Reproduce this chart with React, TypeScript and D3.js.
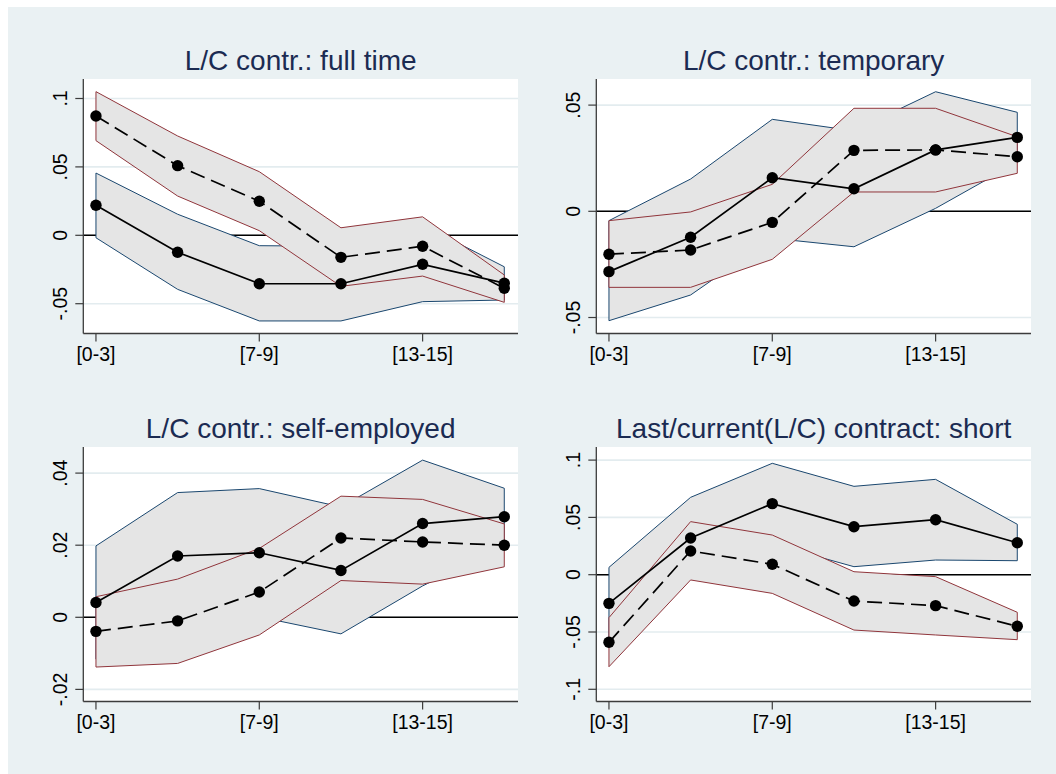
import React from "react";
import * as d3 from "d3";

// ---- data ----
const xValues = [1, 2, 3, 4, 5, 6];
const xTickValues = [1, 3, 5];
const xTickLabels = ["[0-3]", "[7-9]", "[13-15]"];

const titles = [
  "L/C contr.: full time",
  "L/C contr.: temporary",
  "L/C contr.: self-employed",
  "Last/current(L/C) contract: short",
];

// full time
const ftSolid = [0.022, -0.0124, -0.0354, -0.0354, -0.0212, -0.035];
const ftSolidLo = [-0.0018, -0.0395, -0.0626, -0.0626, -0.0485, -0.0473];
const ftSolidHi = [0.0455, 0.0154, -0.0076, -0.008, 0.0075, -0.023];
const ftDashed = [0.0872, 0.0509, 0.0249, -0.0161, -0.008, -0.0387];
const ftDashedLo = [0.0692, 0.0287, 0.0034, -0.0373, -0.0298, -0.049];
const ftDashedHi = [0.105, 0.0726, 0.0465, 0.0055, 0.0135, -0.029];

// temporary
const tmSolid = [-0.0284, -0.0122, 0.0158, 0.0106, 0.0289, 0.0348];
const tmSolidLo = [-0.0515, -0.0394, -0.0127, -0.0167, 0.0014, 0.023];
const tmSolidHi = [-0.0044, 0.0152, 0.0433, 0.0379, 0.0563, 0.0466];
const tmDashed = [-0.0202, -0.0182, -0.0052, 0.0287, 0.0289, 0.0257];
const tmDashedLo = [-0.0358, -0.0358, -0.0226, 0.0091, 0.0091, 0.0179];
const tmDashedHi = [-0.0044, -0.0003, 0.0127, 0.0485, 0.0485, 0.0351];

// self-employed
const seSolid = [0.0041, 0.017, 0.0179, 0.013, 0.026, 0.0279];
const seSolidLo = [-0.0116, -0.0006, 0.0001, -0.0046, 0.0087, 0.02];
const seSolidHi = [0.0198, 0.0346, 0.0357, 0.0306, 0.0436, 0.0358];
const seDashed = [-0.0039, -0.001, 0.007, 0.022, 0.0209, 0.02];
const seDashedLo = [-0.0138, -0.0128, -0.0049, 0.0102, 0.0092, 0.014];
const seDashedHi = [0.0057, 0.0106, 0.0191, 0.0336, 0.0327, 0.0259];

// short
const shSolid = [-0.025, 0.032, 0.062, 0.0419, 0.048, 0.0279];
const shSolidLo = [-0.0564, -0.0035, 0.0268, 0.007, 0.0128, 0.0122];
const shSolidHi = [0.0064, 0.0675, 0.0972, 0.0771, 0.0832, 0.044];
const shDashed = [-0.059, 0.0207, 0.0091, -0.023, -0.027, -0.045];
const shDashedLo = [-0.0803, -0.0046, -0.0163, -0.0483, -0.0526, -0.0567];
const shDashedHi = [-0.0375, 0.0463, 0.0346, 0.0026, -0.0017, -0.0328];

// y axis ticks
const ftYTicks = [0.1, 0.05, 0, -0.05];
const ftYTickLabels = [".1", ".05", "0", "-.05"];
const tmYTicks = [0.05, 0, -0.05];
const tmYTickLabels = [".05", "0", "-.05"];
const seYTicks = [0.04, 0.02, 0, -0.02];
const seYTickLabels = [".04", ".02", "0", "-.02"];
const shYTicks = [0.1, 0.05, 0, -0.05, -0.1];
const shYTickLabels = [".1", ".05", "0", "-.05", "-.1"];

const ftYDomain = [-0.07178, 0.11425];
const tmYDomain = [-0.05753, 0.06229];
const seYDomain = [-0.02336, 0.04724];
const shYDomain = [-0.11065, 0.11143];
const xDomain = [0.845, 6.168];

// ---- layout / style ----
const W = 1056;
const H = 774;
const BG = "#eaf1f3";
const panelLefts = [83.3, 596.3, 83.3, 596.3];
const panelTops = [79, 79, 447, 447];
const PW = 434.7;
const PH = 254.5;
const BLUE = "#1a476f";
const RED = "#90353b";
const FILL = "#e5e5e5";
const GRID = "#e3ecef";
const AXIS = "#3c3c3c";
const TITLE = "#1b2b52";
const FONT = "'Liberation Sans', Arial, Helvetica, sans-serif";

type PanelData = {
  title: string;
  solid: number[];
  solidLo: number[];
  solidHi: number[];
  dashed: number[];
  dashedLo: number[];
  dashedHi: number[];
  yTicks: number[];
  yTickLabels: string[];
  yDomain: number[];
};

const panels: PanelData[] = [
  { title: titles[0], solid: ftSolid, solidLo: ftSolidLo, solidHi: ftSolidHi, dashed: ftDashed, dashedLo: ftDashedLo, dashedHi: ftDashedHi, yTicks: ftYTicks, yTickLabels: ftYTickLabels, yDomain: ftYDomain },
  { title: titles[1], solid: tmSolid, solidLo: tmSolidLo, solidHi: tmSolidHi, dashed: tmDashed, dashedLo: tmDashedLo, dashedHi: tmDashedHi, yTicks: tmYTicks, yTickLabels: tmYTickLabels, yDomain: tmYDomain },
  { title: titles[2], solid: seSolid, solidLo: seSolidLo, solidHi: seSolidHi, dashed: seDashed, dashedLo: seDashedLo, dashedHi: seDashedHi, yTicks: seYTicks, yTickLabels: seYTickLabels, yDomain: seYDomain },
  { title: titles[3], solid: shSolid, solidLo: shSolidLo, solidHi: shSolidHi, dashed: shDashed, dashedLo: shDashedLo, dashedHi: shDashedHi, yTicks: shYTicks, yTickLabels: shYTickLabels, yDomain: shYDomain },
];

function Panel({ p, idx }: { p: PanelData; idx: number }) {
  const left = panelLefts[idx];
  const top = panelTops[idx];
  const x = d3.scaleLinear().domain(xDomain).range([left, left + PW]);
  const y = d3.scaleLinear().domain(p.yDomain).range([top + PH, top]);

  const line = d3
    .line<number>()
    .x((_, i) => x(xValues[i]))
    .y((d) => y(d));
  const area = (lo: number[], hi: number[]) =>
    d3
      .area<number>()
      .x((_, i) => x(xValues[i]))
      .y0((_, i) => y(lo[i]))
      .y1((_, i) => y(hi[i]))(xValues.map((_, i) => i)) as string;

  const bottom = top + PH;
  return (
    <g>
      <rect x={left} y={top} width={PW} height={PH} fill="#ffffff" />
      {p.yTicks.map((t) => (
        <line key={"g" + t} x1={left} x2={left + PW} y1={y(t)} y2={y(t)} stroke={GRID} strokeWidth={1.6} />
      ))}
      <line x1={left} x2={left + PW} y1={y(0)} y2={y(0)} stroke="#000" strokeWidth={1.6} />
      <path d={area(p.solidLo, p.solidHi)} fill={FILL} stroke={BLUE} strokeWidth={1} strokeLinejoin="round" />
      <path d={area(p.dashedLo, p.dashedHi)} fill={FILL} stroke={RED} strokeWidth={1} strokeLinejoin="round" />
      <path d={line(p.solid) as string} fill="none" stroke="#000" strokeWidth={1.7} />
      <path d={line(p.dashed) as string} fill="none" stroke="#000" strokeWidth={1.7} strokeDasharray="15 7" />
      {p.solid.map((v, i) => (
        <circle key={"s" + i} cx={x(xValues[i])} cy={y(v)} r={5.7} fill="#000" />
      ))}
      {p.dashed.map((v, i) => (
        <circle key={"d" + i} cx={x(xValues[i])} cy={y(v)} r={5.7} fill="#000" />
      ))}
      {/* axes */}
      <line x1={left} x2={left} y1={top} y2={bottom} stroke={AXIS} strokeWidth={1.3} />
      <line x1={left} x2={left + PW} y1={bottom} y2={bottom} stroke={AXIS} strokeWidth={1.3} />
      {p.yTicks.map((t, i) => (
        <g key={"yt" + t}>
          <line x1={left - 8} x2={left} y1={y(t)} y2={y(t)} stroke={AXIS} strokeWidth={1.2} />
          <text
            transform={`translate(${left - 16.6},${y(t)}) rotate(-90)`}
            textAnchor="middle"
            fontSize={19.5}
            fontFamily={FONT}
            fill="#000"
          >
            {p.yTickLabels[i]}
          </text>
        </g>
      ))}
      {xTickValues.map((t, i) => (
        <g key={"xt" + t}>
          <line x1={x(t)} x2={x(t)} y1={bottom} y2={bottom + 8} stroke={AXIS} strokeWidth={1.2} />
          <text x={x(t)} y={bottom + 27.5} textAnchor="middle" fontSize={19.5} fontFamily={FONT} fill="#000">
            {xTickLabels[i]}
          </text>
        </g>
      ))}
      <text x={left + PW / 2} y={top - 9.3} textAnchor="middle" fontSize={28} fontFamily={FONT} fill={TITLE}>
        {p.title}
      </text>
    </g>
  );
}

export default function App() {
  return (
    <svg
      width={W}
      height={H}
      style={{ position: "absolute", left: 0, top: 0, display: "block" }}
      viewBox={`0 0 ${W} ${H}`}
    >
      <rect x={0} y={0} width={W} height={H} fill="#ffffff" />
      <rect x={8} y={7} width={W - 8} height={H - 7} fill={BG} />
      {panels.map((p, i) => (
        <Panel key={i} p={p} idx={i} />
      ))}
    </svg>
  );
}
